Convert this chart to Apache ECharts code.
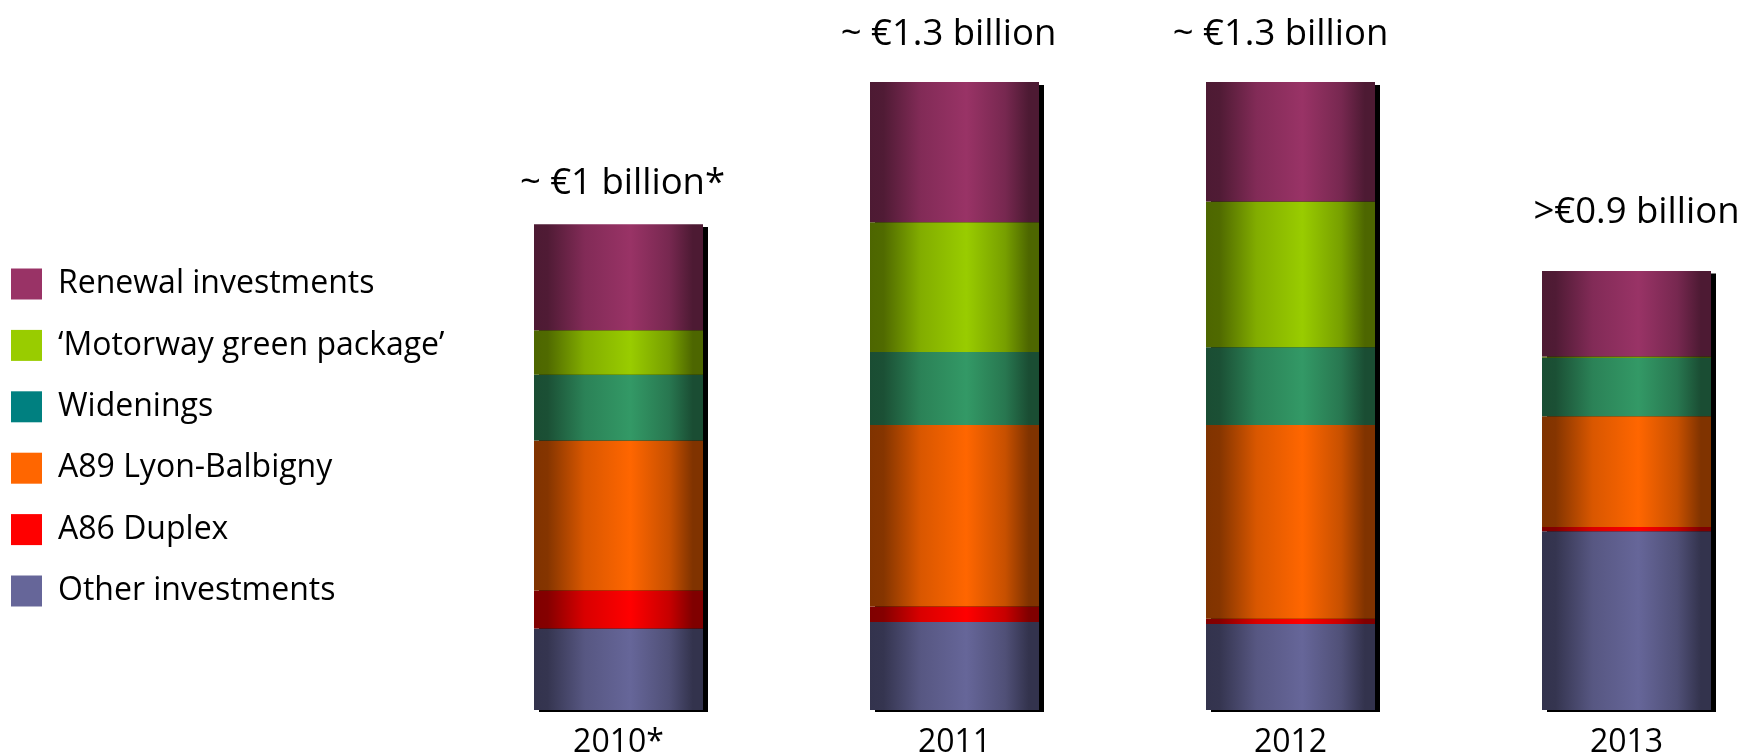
<!DOCTYPE html>
<html>
<head>
<meta charset="utf-8">
<script src="https://cdn.jsdelivr.net/npm/echarts@6/dist/echarts.min.js"></script>
<style>
  html, body { margin: 0; padding: 0; background: #ffffff; }
  #chart { width: 1744px; height: 753px; }
</style>
</head>
<body>
<div id="chart"></div>
<script>
// Investment programme by year, € million per category
var years = ['2010*', '2011', '2012', '2013'];
var totalLabels = ['~ €1 billion*', '~ €1.3 billion', '~ €1.3 billion', '>€0.9 billion'];

var otherInvestments = [168, 181, 177, 368];
var a86Duplex        = [78, 32, 11, 9];
var a89LyonBalbigny  = [309, 374, 399, 228];
var widenings        = [135, 150, 160, 120];
var greenPackage     = [92, 267, 300, 3];
var renewal          = [218, 289, 246, 176];

var FONT = '"Open Sans", "Noto Sans", sans-serif';

// stack height per year, used for the drop shadow behind each column
var totals = years.map(function (_, i) {
  return otherInvestments[i] + a86Duplex[i] + a89LyonBalbigny[i] +
         widenings[i] + greenPackage[i] + renewal[i];
});

// darken a hex colour by a factor
function shade(hex, f) {
  var n = parseInt(hex.slice(1), 16);
  var r = Math.round(((n >> 16) & 255) * f);
  var g = Math.round(((n >> 8) & 255) * f);
  var b = Math.round((n & 255) * f);
  return 'rgb(' + r + ',' + g + ',' + b + ')';
}

// horizontal "cylinder" shading: dark edges, bright band right of centre
function cylinder(hex) {
  return new echarts.graphic.LinearGradient(0, 0, 1, 0, [
    { offset: 0.00, color: shade(hex, 0.5) },
    { offset: 0.08, color: shade(hex, 0.52) },
    { offset: 0.30, color: shade(hex, 0.85) },
    { offset: 0.57, color: hex },
    { offset: 0.80, color: shade(hex, 0.78) },
    { offset: 0.94, color: shade(hex, 0.5) },
    { offset: 1.00, color: shade(hex, 0.5) }
  ]);
}

var labelOffsets = [[4, 0], [-6, -6.5], [-10, -6.5], [10, -17.5]];

function barSeries(name, data, base, extra) {
  var s = {
    name: name,
    type: 'bar',
    stack: 'total',
    barWidth: 169,
    data: data,
    z: 3,
    clip: false,
    itemStyle: { color: cylinder(base) },
    emphasis: { disabled: true }
  };
  if (extra) extra(s);
  return s;
}

var series = [
  // hard black drop shadow, drawn on its own slightly shifted grid
  {
    name: 'shadow',
    type: 'bar',
    xAxisIndex: 1,
    yAxisIndex: 1,
    barWidth: 169,
    data: totals,
    z: 1,
    clip: false,
    silent: true,
    itemStyle: { color: '#000000' }
  },
  barSeries('Other investments', otherInvestments, '#666699'),
  barSeries('A86 Duplex', a86Duplex, '#FF0000'),
  barSeries('A89 Lyon-Balbigny', a89LyonBalbigny, '#FF6600'),
  barSeries('Widenings', widenings, '#339966'),
  barSeries('\u2018Motorway green package\u2019', greenPackage, '#99CC00'),
  barSeries('Renewal investments', renewal.map(function (v, i) {
    return { value: v, label: { offset: labelOffsets[i] } };
  }), '#993366', function (s) {
    s.label = {
      show: true,
      position: 'top',
      distance: 22,
      color: '#000000',
      fontFamily: FONT,
      fontSize: 36.5,
      formatter: function (p) { return totalLabels[p.dataIndex]; }
    };
  })
];

var legendColors = {
  'Renewal investments': '#993366',
  '\u2018Motorway green package\u2019': '#99CC00',
  'Widenings': '#008080',
  'A89 Lyon-Balbigny': '#FF6600',
  'A86 Duplex': '#FF0000',
  'Other investments': '#666699'
};
var legendOrder = ['Renewal investments', '\u2018Motorway green package\u2019', 'Widenings',
                   'A89 Lyon-Balbigny', 'A86 Duplex', 'Other investments'];

var chart = echarts.init(document.getElementById('chart'), null, { renderer: 'canvas' });
chart.setOption({
  backgroundColor: '#ffffff',
  animation: false,
  textStyle: { fontFamily: FONT },
  legend: {
    orient: 'vertical',
    left: 11,
    top: 268,
    padding: 0,
    itemWidth: 31,
    itemHeight: 31,
    itemGap: 29.4,
    icon: 'rect',
    selectedMode: false,
    textStyle: { color: '#000000', fontSize: 32, fontFamily: FONT, padding: [0, 0, 0, 11] },
    data: legendOrder.map(function (n) {
      return { name: n, itemStyle: { color: legendColors[n] } };
    })
  },
  // columns sit on the category ticks (no boundary gap), so the grid spans
  // from the first column centre to the last one
  grid: [
    { left: 618.5, width: 1008, top: 30, height: 680, containLabel: false, outerBoundsMode: 'none' },
    { left: 623.5, width: 1008, top: 33, height: 679, containLabel: false, outerBoundsMode: 'none' }
  ],
  xAxis: [
    {
      type: 'category',
      gridIndex: 0,
      boundaryGap: false,
      data: years,
      axisLine: { show: false },
      axisTick: { show: false },
      axisLabel: { color: '#000000', fontSize: 32, fontFamily: FONT, margin: 16.5 }
    },
    {
      type: 'category',
      gridIndex: 1,
      boundaryGap: false,
      data: years,
      show: false
    }
  ],
  yAxis: [
    { type: 'value', gridIndex: 0, min: 0, max: 1400, show: false, splitLine: { show: false } },
    { type: 'value', gridIndex: 1, min: 0, max: 1400, show: false, splitLine: { show: false } }
  ],
  series: series
});
</script>
</body>
</html>
